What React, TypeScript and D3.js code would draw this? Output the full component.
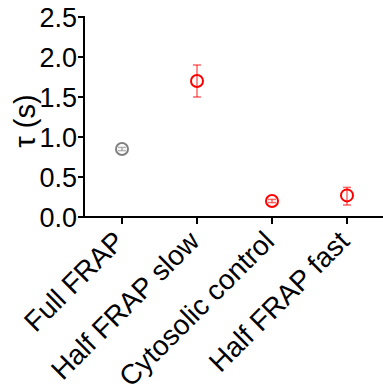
import React from "react";
import * as d3 from "d3";

const categories = ["Full FRAP", "Half FRAP slow", "Cytosolic control", "Half FRAP fast"];
const means = [0.85, 1.7, 0.2, 0.27];
const errLow = [0.02, 0.2, 0.02, 0.12];
const errHigh = [0.02, 0.2, 0.02, 0.1];
const colors = ["#808080", "#ff0000", "#ff0000", "#ff0000"];
const yTicks = [0, 0.5, 1.0, 1.5, 2.0, 2.5];

const width = 383;
const height = 391;
const margin = { top: 17, right: 0, bottom: 174, left: 84 };

const App = () => {
  const y = d3
    .scaleLinear()
    .domain([0, 2.5])
    .range([height - margin.bottom, margin.top]);
  const x = d3
    .scalePoint<string>()
    .domain(categories)
    .range([122, 347]);

  const font = "Liberation Sans, Arial, sans-serif";
  const y0 = y(0);

  return (
    <svg
      width={width}
      height={height}
      style={{ position: "absolute", left: 0, top: 0 }}
    >
      <rect width={width} height={height} fill="white" />
      {/* axes */}
      <line x1={margin.left} x2={margin.left} y1={margin.top - 1} y2={y0 + 1} stroke="black" strokeWidth={2} />
      <line x1={margin.left - 1} x2={width} y1={y0} y2={y0} stroke="black" strokeWidth={2} />
      {yTicks.map((t) => (
        <g key={t}>
          <line x1={margin.left - 6} x2={margin.left} y1={y(t)} y2={y(t)} stroke="black" strokeWidth={2} />
          <text
            x={margin.left - 7}
            y={y(t)}
            dy="0.36em"
            textAnchor="end"
            fontFamily={font}
            fontSize={27}
          >
            {d3.format(".1f")(t)}
          </text>
        </g>
      ))}
      {categories.map((c) => (
        <g key={c}>
          <line x1={x(c)} x2={x(c)} y1={y0} y2={y0 + 7} stroke="black" strokeWidth={2} />
          <text
            transform={`translate(${(x(c) as number) + 4},${y0 + 26}) rotate(-45)`}
            textAnchor="end"
            fontFamily={font}
            fontSize={28}
          >
            {c}
          </text>
        </g>
      ))}
      <text
        transform={`translate(35,${y(1.2)}) rotate(-90)`}
        textAnchor="middle"
        fontFamily={font}
        fontSize={29}
      >
        τ (s)
      </text>
      {/* points */}
      {categories.map((c, i) => {
        const cx = x(c) as number;
        const top = y(means[i] + errHigh[i]);
        const bot = y(means[i] - errLow[i]);
        return (
          <g key={c}>
            <line x1={cx} x2={cx} y1={top} y2={bot} stroke={colors[i]} strokeOpacity={0.6} strokeWidth={1.5} />
            <line x1={cx - 4} x2={cx + 4} y1={top} y2={top} stroke={colors[i]} strokeOpacity={0.6} strokeWidth={1.5} />
            <line x1={cx - 4} x2={cx + 4} y1={bot} y2={bot} stroke={colors[i]} strokeOpacity={0.6} strokeWidth={1.5} />
            <circle cx={cx} cy={y(means[i])} r={6} fill="none" stroke={colors[i]} strokeWidth={2} />
          </g>
        );
      })}
    </svg>
  );
};

export default App;
